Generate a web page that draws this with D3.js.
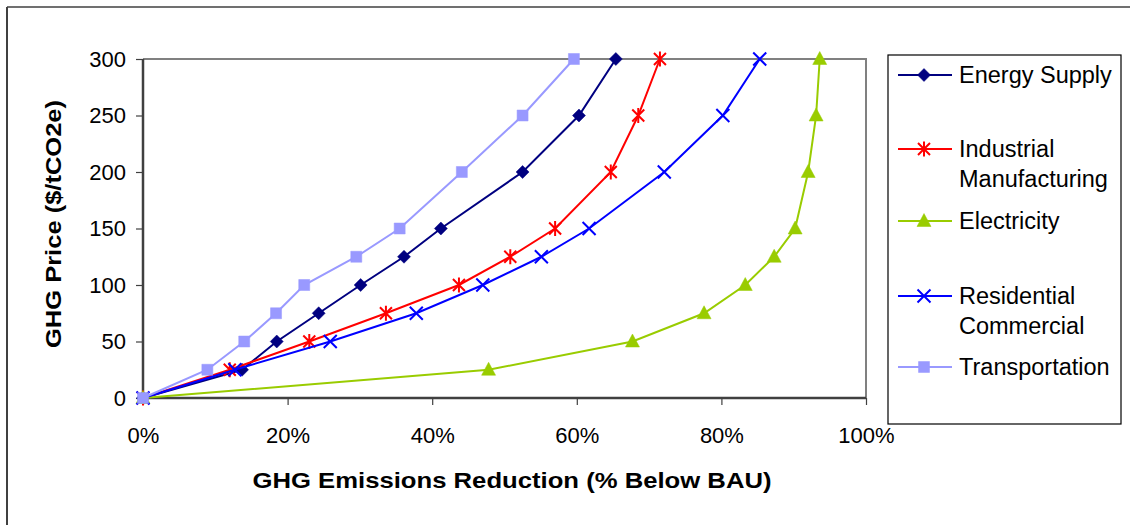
<!DOCTYPE html>
<html>
<head>
<meta charset="utf-8">
<script src="https://cdn.jsdelivr.net/npm/d3@7"></script>
<style>
  body { margin: 0; background: #fff; }
  svg { display: block; font-family: "Liberation Sans", Arial, sans-serif; }
</style>
</head>
<body>
<div id="chart"></div>
<script>
// price levels ($/tCO2e) shared by every series
const prices = [0, 25, 50, 75, 100, 125, 150, 200, 250, 300];

// emissions reduction (% below BAU) at each price level
const energySupply   = [0, 13.7, 18.5, 24.3, 30.1, 36.1, 41.2, 52.5, 60.3, 65.4];
const industrialMfg  = [0, 12.0, 23.0, 33.6, 43.7, 50.8, 57.0, 64.7, 68.5, 71.5];
const electricity    = [0, 47.8, 67.7, 77.6, 83.3, 87.3, 90.2, 92.0, 93.1, 93.6];
const residentialCom = [0, 12.7, 25.9, 37.8, 47.0, 55.1, 61.7, 72.1, 80.2, 85.3];
const transportation = [0, 8.9, 14.0, 18.4, 22.3, 29.5, 35.5, 44.1, 52.5, 59.6];

const xTicks = [0, 20, 40, 60, 80, 100];
const yTicks = [0, 50, 100, 150, 200, 250, 300];

const seriesNames = [["Energy Supply"], ["Industrial", "Manufacturing"], ["Electricity"], ["Residential", "Commercial"], ["Transportation"]];
const seriesValues = [energySupply, industrialMfg, electricity, residentialCom, transportation];
const seriesColors = ["#000080", "#ff0000", "#99cc00", "#0000ff", "#9999ff"];
const seriesMarkers = ["diamond", "star", "triangle", "cross", "square"];

const width = 1130, height = 525;
const plot = {left: 143, right: 866, top: 59, bottom: 398};

const svg = d3.select("#chart").append("svg")
    .attr("width", width)
    .attr("height", height);

// outer frame (only top and left edges are visible in the original)
svg.append("line").attr("x1", 7).attr("x2", width).attr("y1", 7).attr("y2", 7)
    .attr("stroke", "#404040").attr("stroke-width", 1.5);
svg.append("line").attr("x1", 7).attr("x2", 7).attr("y1", 7).attr("y2", height)
    .attr("stroke", "#404040").attr("stroke-width", 2);

let x = d3.scaleLinear().domain([0, 100]).range([plot.left, plot.right]);
let y = d3.scaleLinear().domain([0, 300]).range([plot.bottom, plot.top]);

// top / right border of plot area
svg.append("path")
    .attr("d", `M${plot.left},${plot.top}H${plot.right}V${plot.bottom}`)
    .attr("fill", "none")
    .attr("stroke", "#808080")
    .attr("stroke-width", 2);

// axes
let yAxis = svg.append("g")
    .attr("transform", `translate(${plot.left},0)`)
    .call(d3.axisLeft(y).tickValues(yTicks).tickSize(7).tickPadding(10));
let xAxis = svg.append("g")
    .attr("transform", `translate(0,${plot.bottom})`)
    .call(d3.axisBottom(x).tickValues(xTicks).tickSize(7).tickPadding(22).tickFormat(d => d + "%"));

[xAxis, yAxis].forEach(function(a) {
    a.select(".domain").attr("stroke", "#404040").attr("stroke-width", 2.5);
    a.selectAll(".tick line").attr("stroke", "#404040").attr("stroke-width", 1.2);
    a.selectAll(".tick text")
        .attr("fill", "#000")
        .style("font-size", "22px")
        .style("font-family", "Liberation Sans, Arial, sans-serif");
});
yAxis.select(".domain").attr("d", `M0,${plot.top}V${plot.bottom}`);
xAxis.select(".domain").attr("d", `M${plot.left},0H${plot.right}`);

// axis titles
svg.append("text")
    .attr("x", 512).attr("y", 488)
    .attr("text-anchor", "middle")
    .attr("textLength", 519)
    .attr("lengthAdjust", "spacingAndGlyphs")
    .style("font-size", "22px")
    .style("font-weight", "bold")
    .text("GHG Emissions Reduction (% Below BAU)");

svg.append("text")
    .attr("transform", "translate(61,224) rotate(-90)")
    .attr("text-anchor", "middle")
    .attr("textLength", 248)
    .attr("lengthAdjust", "spacingAndGlyphs")
    .style("font-size", "22px")
    .style("font-weight", "bold")
    .text("GHG Price ($/tCO2e)");

// marker shapes
function markerPath(type) {
    switch (type) {
        case "diamond": return "M0,-6.5L6.5,0L0,6.5L-6.5,0Z";
        case "square": return "M-5.5,-5.5H5.5V5.5H-5.5Z";
        case "triangle": return "M0,-7.5L7,5.5H-7Z";
        case "star": return "M-6,-6L6,6M-6,6L6,-6M0,-7.5V7.5";
        case "cross": return "M-6.5,-6.5L6.5,6.5M-6.5,6.5L6.5,-6.5";
    }
}
function isFilled(type) {
    return type == "diamond" || type == "square" || type == "triangle";
}

let line = d3.line()
    .x(d => x(d.v))
    .y(d => y(d.p));

for (let i = 0; i < seriesValues.length; i++) {
    let pts = prices.map((p, j) => ({p: p, v: seriesValues[i][j]}));
    let g = svg.append("g");
    g.append("path")
        .datum(pts)
        .attr("d", line)
        .attr("fill", "none")
        .attr("stroke", seriesColors[i])
        .attr("stroke-width", 2);
    g.selectAll(".mk")
        .data(pts)
        .enter()
        .append("path")
        .attr("class", "mk")
        .attr("transform", d => `translate(${x(d.v)},${y(d.p)})`)
        .attr("d", markerPath(seriesMarkers[i]))
        .attr("fill", isFilled(seriesMarkers[i]) ? seriesColors[i] : "none")
        .attr("stroke", seriesColors[i])
        .attr("stroke-width", isFilled(seriesMarkers[i]) ? 0.5 : 2);
}

// legend
let legend = svg.append("g");
legend.append("rect")
    .attr("x", 888).attr("y", 55)
    .attr("width", 233).attr("height", 369)
    .attr("fill", "#fff")
    .attr("stroke", "#000")
    .attr("stroke-width", 1.2);

const legendY = [75, 149, 221, 296, 367];
for (let i = 0; i < seriesNames.length; i++) {
    let ly = legendY[i];
    legend.append("line")
        .attr("x1", 898).attr("x2", 952)
        .attr("y1", ly).attr("y2", ly)
        .attr("stroke", seriesColors[i])
        .attr("stroke-width", 2);
    legend.append("path")
        .attr("transform", `translate(924,${ly})`)
        .attr("d", markerPath(seriesMarkers[i]))
        .attr("fill", isFilled(seriesMarkers[i]) ? seriesColors[i] : "none")
        .attr("stroke", seriesColors[i])
        .attr("stroke-width", isFilled(seriesMarkers[i]) ? 0.5 : 2);
    seriesNames[i].forEach(function(t, k) {
        legend.append("text")
            .attr("x", 959)
            .attr("y", ly + k * 30)
            .attr("dy", "0.35em")
            .style("font-size", "23.5px")
            .text(t);
    });
}
</script>
</body>
</html>
